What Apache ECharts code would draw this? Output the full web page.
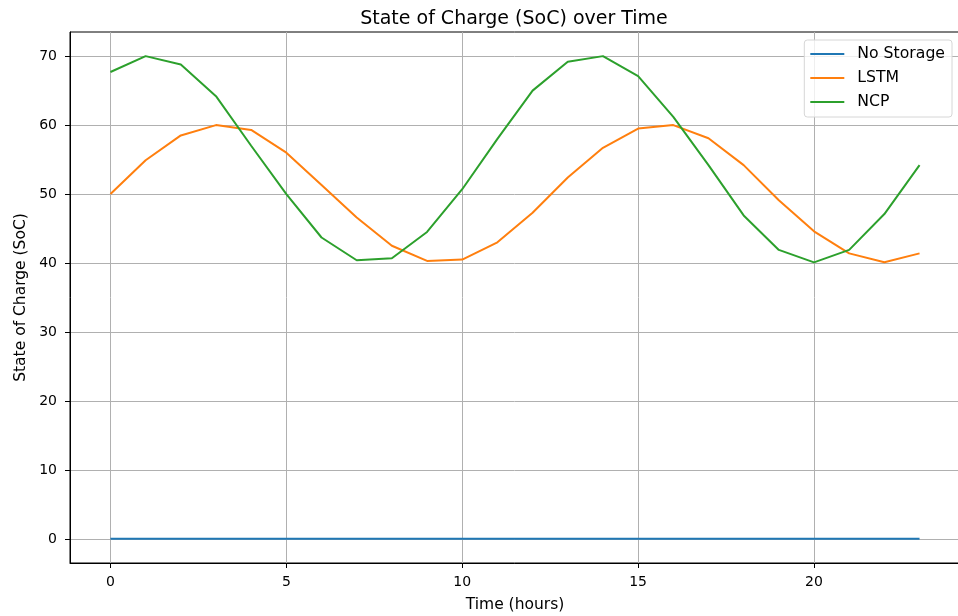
<!DOCTYPE html>
<html>
<head>
<meta charset="utf-8">
<script src="https://cdn.jsdelivr.net/npm/echarts@6/dist/echarts.min.js"></script>
<style>
  html, body { margin: 0; padding: 0; background: #fff; }
  #chart { width: 958px; height: 616px; }
</style>
</head>
<body>
<div id="chart"></div>
<script>
// hours 0..23
const hours = [0,1,2,3,4,5,6,7,8,9,10,11,12,13,14,15,16,17,18,19,20,21,22,23];
const noStorage = [0,0,0,0,0,0,0,0,0,0,0,0,0,0,0,0,0,0,0,0,0,0,0,0];
const lstm = [50.0, 54.9, 58.5, 60.0, 59.3, 56.0, 51.3, 46.6, 42.5, 40.3, 40.5, 43.0,
              47.3, 52.4, 56.7, 59.5, 60.0, 58.1, 54.2, 49.1, 44.6, 41.4, 40.1, 41.4];
const ncp = [67.7, 70.0, 68.8, 64.2, 57.0, 50.0, 43.7, 40.4, 40.7, 44.5, 50.7, 58.0,
             65.0, 69.2, 70.0, 67.1, 61.2, 54.2, 46.9, 41.9, 40.1, 41.9, 47.1, 54.2];
const xTicks = [0, 5, 10, 15, 20];
const yTicks = [0, 10, 20, 30, 40, 50, 60, 70];

const font = 'DejaVu Sans';
const pairs = arr => hours.map((h, i) => [h, arr[i]]);

function lineSeries(name, data, color) {
  return {
    name: name,
    type: 'line',
    data: pairs(data),
    symbol: 'none',
    lineStyle: { color: color, width: 2 },
    itemStyle: { color: color },
    animation: false
  };
}

const chart = echarts.init(document.getElementById('chart'));
chart.setOption({
  animation: false,
  title: {
    text: 'State of Charge (SoC) over Time',
    left: 509, top: 5, textAlign: 'center',
    textStyle: { fontFamily: font, fontSize: 19, fontWeight: 'normal', color: '#000' }
  },
  grid: {
    left: 70, top: 32, right: -2, bottom: 53,
    outerBoundsMode: 'none',
    show: true, borderColor: '#000', borderWidth: 1, containLabel: false
  },
  legend: {
    orient: 'vertical',
    right: 6, top: 40,
    padding: [6, 7, 7, 6],
    itemGap: 8,
    itemWidth: 34, itemHeight: 2,
    icon: 'rect',
    borderColor: '#d6d6d6', borderWidth: 1, borderRadius: 3,
    backgroundColor: 'rgba(255,255,255,0.8)',
    textStyle: { fontFamily: font, fontSize: 15.7, color: '#000', lineHeight: 16, padding: [0, 0, 0, 8] },
    data: ['No Storage', 'LSTM', 'NCP']
  },
  xAxis: {
    type: 'value',
    min: -1.15, max: 24.15,
    name: 'Time (hours)', nameLocation: 'middle', nameGap: 34, nameMoveOverlap: false,
    nameTextStyle: { fontFamily: font, fontSize: 15.5, color: '#000' },
    axisLine: { show: true, onZero: false, lineStyle: { color: '#000', width: 1 } },
    axisTick: { show: true, length: 5, customValues: xTicks, lineStyle: { color: '#000' } },
    axisLabel: { customValues: xTicks, margin: 12, fontFamily: font, fontSize: 14, color: '#000' },
    splitLine: { show: true, lineStyle: { color: '#b0b0b0', width: 1 } }
  },
  yAxis: {
    type: 'value',
    min: -3.5, max: 73.5,
    name: 'State of Charge (SoC)', nameLocation: 'middle', nameGap: 41, nameRotate: 90,
    nameMoveOverlap: false,
    nameTextStyle: { fontFamily: font, fontSize: 15.5, color: '#000' },
    axisLine: { show: true, onZero: false, lineStyle: { color: '#000', width: 1 } },
    axisTick: { show: true, length: 5, customValues: yTicks, lineStyle: { color: '#000' } },
    axisLabel: { customValues: yTicks, margin: 13, fontFamily: font, fontSize: 14, color: '#000' },
    splitLine: { show: true, lineStyle: { color: '#b0b0b0', width: 1 } }
  },
  series: [
    lineSeries('No Storage', noStorage, '#1f77b4'),
    lineSeries('LSTM', lstm, '#ff7f0e'),
    lineSeries('NCP', ncp, '#2ca02c')
  ]
});
</script>
</body>
</html>
